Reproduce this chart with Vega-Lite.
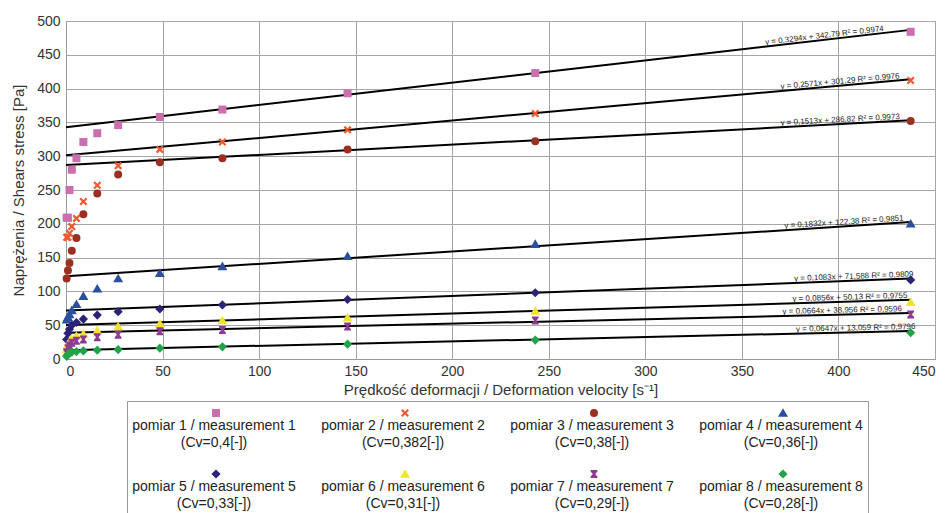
{
  "$schema": "https://vega.github.io/schema/vega-lite/v6.json",
  "autosize": {"type": "none"},
  "width": 869,
  "height": 338,
  "padding": {"left": 66, "top": 21, "right": 16, "bottom": 154},
  "background": "white",
  "config": {
    "view": {"stroke": "#999999", "strokeWidth": 1},
    "axis": {
      "labelFont": "Liberation Sans",
      "labelFontSize": 14,
      "labelColor": "#333333",
      "titleFont": "Liberation Sans",
      "titleFontSize": 15,
      "titleFontWeight": "normal",
      "titleColor": "#333333",
      "gridColor": "#a6a6a6",
      "gridOpacity": 1,
      "domainColor": "#999999",
      "ticks": false
    }
  },
  "datasets": {
    "trend": [
      {"s": "pomiar 1 / measurement 1|(Cv=0,4[-])", "x": 0, "y": 342.79},
      {"s": "pomiar 1 / measurement 1|(Cv=0,4[-])", "x": 437.4, "y": 486.87},
      {"s": "pomiar 2 / measurement 2|(Cv=0,382[-])", "x": 0, "y": 301.29},
      {"s": "pomiar 2 / measurement 2|(Cv=0,382[-])", "x": 437.4, "y": 413.75},
      {"s": "pomiar 3 / measurement 3|(Cv=0,38[-])", "x": 0, "y": 286.82},
      {"s": "pomiar 3 / measurement 3|(Cv=0,38[-])", "x": 437.4, "y": 353.0},
      {"s": "pomiar 4 / measurement 4|(Cv=0,36[-])", "x": 0, "y": 122.38},
      {"s": "pomiar 4 / measurement 4|(Cv=0,36[-])", "x": 437.4, "y": 202.51},
      {"s": "pomiar 5 / measurement 5|(Cv=0,33[-])", "x": 0, "y": 71.588},
      {"s": "pomiar 5 / measurement 5|(Cv=0,33[-])", "x": 437.4, "y": 118.96},
      {"s": "pomiar 6 / measurement 6|(Cv=0,31[-])", "x": 0, "y": 50.13},
      {"s": "pomiar 6 / measurement 6|(Cv=0,31[-])", "x": 437.4, "y": 87.57},
      {"s": "pomiar 7 / measurement 7|(Cv=0,29[-])", "x": 0, "y": 38.956},
      {"s": "pomiar 7 / measurement 7|(Cv=0,29[-])", "x": 437.4, "y": 68.0},
      {"s": "pomiar 8 / measurement 8|(Cv=0,28[-])", "x": 0, "y": 13.059},
      {"s": "pomiar 8 / measurement 8|(Cv=0,28[-])", "x": 437.4, "y": 41.36}
    ],
    "labels": [
      {"t": "y = 0,3294x + 342,79  R² = 0,9974", "slope": 0.3294, "x": 393, "y": 472.2},
      {"t": "y = 0,2571x + 301,29  R² = 0,9976", "slope": 0.2571, "x": 401, "y": 404.4},
      {"t": "y = 0,1513x + 286,82  R² = 0,9973", "slope": 0.1513, "x": 401, "y": 347.5},
      {"t": "y = 0,1832x + 122,38  R² = 0,9851", "slope": 0.1832, "x": 403, "y": 196.2},
      {"t": "y = 0,1083x + 71,588  R² = 0,9809", "slope": 0.1083, "x": 408, "y": 115.8},
      {"t": "y = 0,0856x + 50,13  R² = 0,9755", "slope": 0.0856, "x": 406, "y": 84.9},
      {"t": "y = 0,0664x + 38,956  R² = 0,9596", "slope": 0.0664, "x": 402, "y": 65.65},
      {"t": "y = 0,0647x + 13,059  R² = 0,9796", "slope": 0.0647, "x": 409, "y": 39.5}
    ],
    "points": [
      {"s": "pomiar 1 / measurement 1|(Cv=0,4[-])", "x": 0.333, "y": 209},
      {"s": "pomiar 1 / measurement 1|(Cv=0,4[-])", "x": 1.0, "y": 209},
      {"s": "pomiar 1 / measurement 1|(Cv=0,4[-])", "x": 1.8, "y": 250},
      {"s": "pomiar 1 / measurement 1|(Cv=0,4[-])", "x": 3.0, "y": 280},
      {"s": "pomiar 1 / measurement 1|(Cv=0,4[-])", "x": 5.4, "y": 297},
      {"s": "pomiar 1 / measurement 1|(Cv=0,4[-])", "x": 9.0, "y": 321},
      {"s": "pomiar 1 / measurement 1|(Cv=0,4[-])", "x": 16.2, "y": 334},
      {"s": "pomiar 1 / measurement 1|(Cv=0,4[-])", "x": 27, "y": 346},
      {"s": "pomiar 1 / measurement 1|(Cv=0,4[-])", "x": 48.6, "y": 358},
      {"s": "pomiar 1 / measurement 1|(Cv=0,4[-])", "x": 81, "y": 369},
      {"s": "pomiar 1 / measurement 1|(Cv=0,4[-])", "x": 145.8, "y": 393},
      {"s": "pomiar 1 / measurement 1|(Cv=0,4[-])", "x": 243, "y": 423},
      {"s": "pomiar 1 / measurement 1|(Cv=0,4[-])", "x": 437.4, "y": 484},
      {"s": "pomiar 2 / measurement 2|(Cv=0,382[-])", "x": 0.333, "y": 180},
      {"s": "pomiar 2 / measurement 2|(Cv=0,382[-])", "x": 1.0, "y": 180},
      {"s": "pomiar 2 / measurement 2|(Cv=0,382[-])", "x": 1.8, "y": 186},
      {"s": "pomiar 2 / measurement 2|(Cv=0,382[-])", "x": 3.0, "y": 196},
      {"s": "pomiar 2 / measurement 2|(Cv=0,382[-])", "x": 5.4, "y": 208},
      {"s": "pomiar 2 / measurement 2|(Cv=0,382[-])", "x": 9.0, "y": 233},
      {"s": "pomiar 2 / measurement 2|(Cv=0,382[-])", "x": 16.2, "y": 257},
      {"s": "pomiar 2 / measurement 2|(Cv=0,382[-])", "x": 27, "y": 286},
      {"s": "pomiar 2 / measurement 2|(Cv=0,382[-])", "x": 48.6, "y": 310},
      {"s": "pomiar 2 / measurement 2|(Cv=0,382[-])", "x": 81, "y": 321},
      {"s": "pomiar 2 / measurement 2|(Cv=0,382[-])", "x": 145.8, "y": 339},
      {"s": "pomiar 2 / measurement 2|(Cv=0,382[-])", "x": 243, "y": 363},
      {"s": "pomiar 2 / measurement 2|(Cv=0,382[-])", "x": 437.4, "y": 412},
      {"s": "pomiar 3 / measurement 3|(Cv=0,38[-])", "x": 0.333, "y": 119},
      {"s": "pomiar 3 / measurement 3|(Cv=0,38[-])", "x": 1.0, "y": 131},
      {"s": "pomiar 3 / measurement 3|(Cv=0,38[-])", "x": 1.8, "y": 142},
      {"s": "pomiar 3 / measurement 3|(Cv=0,38[-])", "x": 3.0, "y": 160},
      {"s": "pomiar 3 / measurement 3|(Cv=0,38[-])", "x": 5.4, "y": 179},
      {"s": "pomiar 3 / measurement 3|(Cv=0,38[-])", "x": 9.0, "y": 214},
      {"s": "pomiar 3 / measurement 3|(Cv=0,38[-])", "x": 16.2, "y": 245},
      {"s": "pomiar 3 / measurement 3|(Cv=0,38[-])", "x": 27, "y": 273},
      {"s": "pomiar 3 / measurement 3|(Cv=0,38[-])", "x": 48.6, "y": 291},
      {"s": "pomiar 3 / measurement 3|(Cv=0,38[-])", "x": 81, "y": 297},
      {"s": "pomiar 3 / measurement 3|(Cv=0,38[-])", "x": 145.8, "y": 310},
      {"s": "pomiar 3 / measurement 3|(Cv=0,38[-])", "x": 243, "y": 322},
      {"s": "pomiar 3 / measurement 3|(Cv=0,38[-])", "x": 437.4, "y": 352},
      {"s": "pomiar 4 / measurement 4|(Cv=0,36[-])", "x": 0.333, "y": 58},
      {"s": "pomiar 4 / measurement 4|(Cv=0,36[-])", "x": 1.0, "y": 62},
      {"s": "pomiar 4 / measurement 4|(Cv=0,36[-])", "x": 1.8, "y": 66},
      {"s": "pomiar 4 / measurement 4|(Cv=0,36[-])", "x": 3.0, "y": 72},
      {"s": "pomiar 4 / measurement 4|(Cv=0,36[-])", "x": 5.4, "y": 81},
      {"s": "pomiar 4 / measurement 4|(Cv=0,36[-])", "x": 9.0, "y": 93},
      {"s": "pomiar 4 / measurement 4|(Cv=0,36[-])", "x": 16.2, "y": 104},
      {"s": "pomiar 4 / measurement 4|(Cv=0,36[-])", "x": 27, "y": 119},
      {"s": "pomiar 4 / measurement 4|(Cv=0,36[-])", "x": 48.6, "y": 127},
      {"s": "pomiar 4 / measurement 4|(Cv=0,36[-])", "x": 81, "y": 137},
      {"s": "pomiar 4 / measurement 4|(Cv=0,36[-])", "x": 145.8, "y": 152},
      {"s": "pomiar 4 / measurement 4|(Cv=0,36[-])", "x": 243, "y": 170},
      {"s": "pomiar 4 / measurement 4|(Cv=0,36[-])", "x": 437.4, "y": 200},
      {"s": "pomiar 5 / measurement 5|(Cv=0,33[-])", "x": 0.333, "y": 29},
      {"s": "pomiar 5 / measurement 5|(Cv=0,33[-])", "x": 1.0, "y": 38},
      {"s": "pomiar 5 / measurement 5|(Cv=0,33[-])", "x": 1.8, "y": 44},
      {"s": "pomiar 5 / measurement 5|(Cv=0,33[-])", "x": 3.0, "y": 50},
      {"s": "pomiar 5 / measurement 5|(Cv=0,33[-])", "x": 5.4, "y": 54},
      {"s": "pomiar 5 / measurement 5|(Cv=0,33[-])", "x": 9.0, "y": 59},
      {"s": "pomiar 5 / measurement 5|(Cv=0,33[-])", "x": 16.2, "y": 65},
      {"s": "pomiar 5 / measurement 5|(Cv=0,33[-])", "x": 27, "y": 70},
      {"s": "pomiar 5 / measurement 5|(Cv=0,33[-])", "x": 48.6, "y": 74},
      {"s": "pomiar 5 / measurement 5|(Cv=0,33[-])", "x": 81, "y": 80},
      {"s": "pomiar 5 / measurement 5|(Cv=0,33[-])", "x": 145.8, "y": 88},
      {"s": "pomiar 5 / measurement 5|(Cv=0,33[-])", "x": 243, "y": 98},
      {"s": "pomiar 5 / measurement 5|(Cv=0,33[-])", "x": 437.4, "y": 117},
      {"s": "pomiar 6 / measurement 6|(Cv=0,31[-])", "x": 0.333, "y": 15},
      {"s": "pomiar 6 / measurement 6|(Cv=0,31[-])", "x": 1.0, "y": 21},
      {"s": "pomiar 6 / measurement 6|(Cv=0,31[-])", "x": 1.8, "y": 26},
      {"s": "pomiar 6 / measurement 6|(Cv=0,31[-])", "x": 3.0, "y": 30},
      {"s": "pomiar 6 / measurement 6|(Cv=0,31[-])", "x": 5.4, "y": 34},
      {"s": "pomiar 6 / measurement 6|(Cv=0,31[-])", "x": 9.0, "y": 37},
      {"s": "pomiar 6 / measurement 6|(Cv=0,31[-])", "x": 16.2, "y": 42},
      {"s": "pomiar 6 / measurement 6|(Cv=0,31[-])", "x": 27, "y": 48},
      {"s": "pomiar 6 / measurement 6|(Cv=0,31[-])", "x": 48.6, "y": 52},
      {"s": "pomiar 6 / measurement 6|(Cv=0,31[-])", "x": 81, "y": 57},
      {"s": "pomiar 6 / measurement 6|(Cv=0,31[-])", "x": 145.8, "y": 61},
      {"s": "pomiar 6 / measurement 6|(Cv=0,31[-])", "x": 243, "y": 71},
      {"s": "pomiar 6 / measurement 6|(Cv=0,31[-])", "x": 437.4, "y": 84},
      {"s": "pomiar 7 / measurement 7|(Cv=0,29[-])", "x": 0.333, "y": 10},
      {"s": "pomiar 7 / measurement 7|(Cv=0,29[-])", "x": 1.0, "y": 16},
      {"s": "pomiar 7 / measurement 7|(Cv=0,29[-])", "x": 1.8, "y": 20},
      {"s": "pomiar 7 / measurement 7|(Cv=0,29[-])", "x": 3.0, "y": 24},
      {"s": "pomiar 7 / measurement 7|(Cv=0,29[-])", "x": 5.4, "y": 27},
      {"s": "pomiar 7 / measurement 7|(Cv=0,29[-])", "x": 9.0, "y": 29},
      {"s": "pomiar 7 / measurement 7|(Cv=0,29[-])", "x": 16.2, "y": 32},
      {"s": "pomiar 7 / measurement 7|(Cv=0,29[-])", "x": 27, "y": 36},
      {"s": "pomiar 7 / measurement 7|(Cv=0,29[-])", "x": 48.6, "y": 41},
      {"s": "pomiar 7 / measurement 7|(Cv=0,29[-])", "x": 81, "y": 43},
      {"s": "pomiar 7 / measurement 7|(Cv=0,29[-])", "x": 145.8, "y": 48},
      {"s": "pomiar 7 / measurement 7|(Cv=0,29[-])", "x": 243, "y": 57},
      {"s": "pomiar 7 / measurement 7|(Cv=0,29[-])", "x": 437.4, "y": 66},
      {"s": "pomiar 8 / measurement 8|(Cv=0,28[-])", "x": 0.333, "y": 4},
      {"s": "pomiar 8 / measurement 8|(Cv=0,28[-])", "x": 1.0, "y": 7},
      {"s": "pomiar 8 / measurement 8|(Cv=0,28[-])", "x": 1.8, "y": 9},
      {"s": "pomiar 8 / measurement 8|(Cv=0,28[-])", "x": 3.0, "y": 10},
      {"s": "pomiar 8 / measurement 8|(Cv=0,28[-])", "x": 5.4, "y": 11},
      {"s": "pomiar 8 / measurement 8|(Cv=0,28[-])", "x": 9.0, "y": 12},
      {"s": "pomiar 8 / measurement 8|(Cv=0,28[-])", "x": 16.2, "y": 13},
      {"s": "pomiar 8 / measurement 8|(Cv=0,28[-])", "x": 27, "y": 14},
      {"s": "pomiar 8 / measurement 8|(Cv=0,28[-])", "x": 48.6, "y": 16},
      {"s": "pomiar 8 / measurement 8|(Cv=0,28[-])", "x": 81, "y": 18},
      {"s": "pomiar 8 / measurement 8|(Cv=0,28[-])", "x": 145.8, "y": 22},
      {"s": "pomiar 8 / measurement 8|(Cv=0,28[-])", "x": 243, "y": 28},
      {"s": "pomiar 8 / measurement 8|(Cv=0,28[-])", "x": 437.4, "y": 39}
    ]
  },
  "encoding": {
    "x": {
      "field": "x", "type": "quantitative",
      "scale": {"domain": [0, 450], "nice": false},
      "axis": {"title": "Prędkość deformacji / Deformation velocity [s⁻¹]", "tickCount": 9, "labelPadding": 5, "titlePadding": 4}
    },
    "y": {
      "field": "y", "type": "quantitative",
      "scale": {"domain": [0, 500], "nice": false},
      "axis": {"title": "Naprężenia / Shears stress [Pa]", "tickCount": 10, "labelPadding": 6, "titlePadding": 10}
    }
  },
  "layer": [
    {
      "data": {"name": "trend"},
      "mark": {"type": "line", "color": "black", "strokeWidth": 2},
      "encoding": {"detail": {"field": "s", "type": "nominal"}}
    },
    {
      "data": {"name": "points"},
      "mark": {"type": "point", "filled": true, "opacity": 1, "size": 64},
      "encoding": {
        "color": {
          "field": "s", "type": "nominal",
          "scale": {
            "domain": [
              "pomiar 1 / measurement 1|(Cv=0,4[-])",
              "pomiar 2 / measurement 2|(Cv=0,382[-])",
              "pomiar 3 / measurement 3|(Cv=0,38[-])",
              "pomiar 4 / measurement 4|(Cv=0,36[-])",
              "pomiar 5 / measurement 5|(Cv=0,33[-])",
              "pomiar 6 / measurement 6|(Cv=0,31[-])",
              "pomiar 7 / measurement 7|(Cv=0,29[-])",
              "pomiar 8 / measurement 8|(Cv=0,28[-])"
            ],
            "range": ["#cc6fae", "#f05a32", "#9b3022", "#2b4f9f", "#2b2375", "#f2e42a", "#8d3a90", "#22a34a"]
          },
          "legend": {
            "title": null,
            "orient": "none",
            "legendX": 61,
            "legendY": 380,
            "columns": 4,
            "direction": "horizontal",
            "strokeColor": "#999999",
            "padding": 5,
            "columnPadding": 25,
            "rowPadding": 17,
            "symbolSize": 64,
            "symbolOpacity": 1,
            "symbolOffset": 77,
            "labelFont": "Liberation Sans",
            "labelFontSize": 14,
            "labelColor": "#222222",
            "labelAlign": "center",
            "labelBaseline": "top",
            "labelOffset": -9,
            "labelLimit": 400,
            "labelExpr": "split(datum.label, '|')",
            "encode": {"labels": {"update": {"dy": {"value": 6}, "lineHeight": {"value": 17}}}}
          }
        },
        "shape": {
          "field": "s", "type": "nominal",
          "scale": {
            "domain": [
              "pomiar 1 / measurement 1|(Cv=0,4[-])",
              "pomiar 2 / measurement 2|(Cv=0,382[-])",
              "pomiar 3 / measurement 3|(Cv=0,38[-])",
              "pomiar 4 / measurement 4|(Cv=0,36[-])",
              "pomiar 5 / measurement 5|(Cv=0,33[-])",
              "pomiar 6 / measurement 6|(Cv=0,31[-])",
              "pomiar 7 / measurement 7|(Cv=0,29[-])",
              "pomiar 8 / measurement 8|(Cv=0,28[-])"
            ],
            "range": [
              "square",
              "M-1,-0.6L-0.6,-1L0,-0.4L0.6,-1L1,-0.6L0.4,0L1,0.6L0.6,1L0,0.4L-0.6,1L-1,0.6L-0.4,0Z",
              "circle",
              "M0,-1.2L1.25,0.95L-1.25,0.95Z",
              "M0,-1.15L1.15,0L0,1.15L-1.15,0Z",
              "M0,-1.2L1.25,0.95L-1.25,0.95Z",
              "M-0.85,-1L0.85,-1L0.85,-0.65L0.3,0L0.85,0.65L0.85,1L-0.85,1L-0.85,0.65L-0.3,0L-0.85,-0.65Z",
              "M0,-1.15L1.15,0L0,1.15L-1.15,0Z"
            ]
          }
        }
      }
    },
    {
      "data": {"name": "labels"},
      "mark": {"type": "text", "font": "Liberation Sans", "fontSize": 8, "color": "#222222", "align": "center", "baseline": "alphabetic", "dy": -2},
      "encoding": {
        "text": {"field": "t"},
        "angle": {"field": "slope", "type": "quantitative", "scale": {"domain": [0, 1], "range": [360, 339.94]}, "legend": null}
      }
    }
  ]
}
